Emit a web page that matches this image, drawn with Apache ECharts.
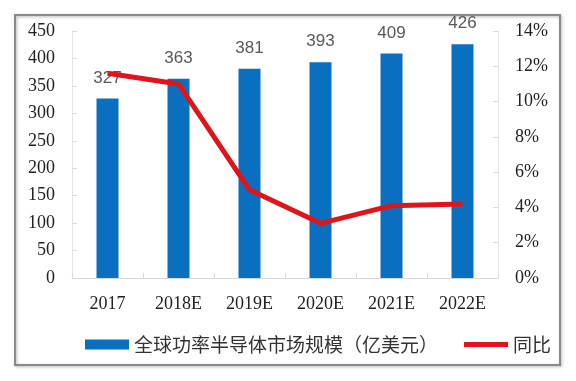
<!DOCTYPE html>
<html><head><meta charset="utf-8">
<script src="https://cdn.jsdelivr.net/npm/echarts@6/dist/echarts.min.js"></script>
<style>html,body{margin:0;padding:0;background:#fff}#c{width:576px;height:381px}</style>
</head><body><div id="c"></div>
<script>
const categories = ['2017','2018E','2019E','2020E','2021E','2022E'];
const marketSize = [327, 363, 381, 393, 409, 426];
const yoy = [11.6, 11.0, 5.0, 3.1, 4.1, 4.2];
const leftTicks = {min: 0, max: 450, interval: 50};
const rightTicks = {min: 0, max: 14, interval: 2};
const seriesNames = ['全球功率半导体市场规模（亿美元）', '同比'];

const chart = echarts.init(document.getElementById('c'), null, {renderer: 'canvas'});
const axisFont = {fontFamily: 'Liberation Serif', fontSize: 18, color: '#222'};
chart.setOption({
  animation: false,
  graphic: [{
    type: 'rect', shape: {x: 15, y: 15, width: 545, height: 350},
    style: {fill: 'none', stroke: '#8a8a8a', lineWidth: 2, shadowBlur: 3, shadowColor: 'rgba(0,0,0,0.3)', shadowOffsetX: 1, shadowOffsetY: 1},
    z: -1
  }],
  grid: {left: 72, right: 78, top: 31, bottom: 103},
  legend: {
    bottom: 22, left: 80, itemGap: 26, itemWidth: 44, itemHeight: 10,
    textStyle: {fontFamily: 'Noto Sans CJK SC', fontSize: 19, color: '#333', padding: [0, 0, 0, 0]},
    data: [{name: seriesNames[0], icon: 'rect'}, {name: seriesNames[1], icon: 'path://M0,2.5L44,2.5L44,7.5L0,7.5Z'}]
  },
  xAxis: {
    type: 'category', data: categories,
    axisLine: {lineStyle: {color: '#d9d9d9'}},
    axisTick: {show: true, inside: true, length: 5, lineStyle: {color: '#d9d9d9'}},
    axisLabel: Object.assign({margin: 17}, axisFont)
  },
  yAxis: [{
    type: 'value', min: leftTicks.min, max: leftTicks.max, interval: leftTicks.interval,
    splitLine: {show: false},
    axisLine: {show: true, lineStyle: {color: '#e3e3e3'}},
    axisTick: {show: true, inside: true, length: 5, lineStyle: {color: '#d9d9d9'}},
    axisLabel: Object.assign({margin: 17}, axisFont)
  }, {
    type: 'value', min: rightTicks.min, max: rightTicks.max, interval: rightTicks.interval,
    splitLine: {show: false},
    axisLine: {show: true, lineStyle: {color: '#e3e3e3'}},
    axisTick: {show: true, inside: true, length: 5, lineStyle: {color: '#d9d9d9'}},
    axisLabel: Object.assign({margin: 17, formatter: v => v + '%'}, axisFont)
  }],
  series: [{
    name: seriesNames[0], type: 'bar', data: marketSize, barWidth: 22,
    itemStyle: {color: '#0b6fc0'},
    label: {show: true, position: 'top', distance: 12, fontFamily: 'Liberation Sans', fontSize: 17, color: '#595959'}
  }, {
    name: seriesNames[1], type: 'line', yAxisIndex: 1, data: yoy,
    symbol: 'none', lineStyle: {color: '#e0141b', width: 5},
    itemStyle: {color: '#e0141b'}, z: 3
  }]
});
</script></body></html>
